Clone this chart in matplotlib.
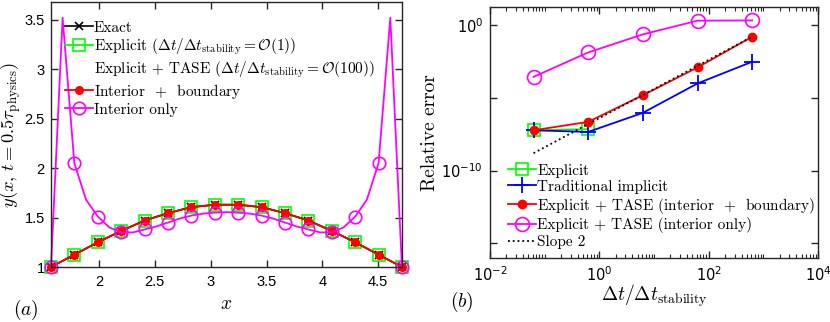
import matplotlib
matplotlib.use('Agg')
import matplotlib.pyplot as plt
from matplotlib.font_manager import FontProperties
from matplotlib.ticker import FixedLocator, FixedFormatter, LogLocator, NullFormatter

# Panel (a): solution at t = 0.5 tau_physics on the 16-point grid
x_grid = [1.571, 1.780, 1.990, 2.199, 2.409, 2.618, 2.827, 3.037,
          3.246, 3.456, 3.665, 3.875, 4.084, 4.294, 4.503, 4.712]
exact_y = [1.00, 1.125, 1.25, 1.365, 1.47, 1.545, 1.605, 1.63,
           1.63, 1.605, 1.545, 1.47, 1.365, 1.25, 1.125, 1.00]
explicit_y = [1.00, 1.125, 1.25, 1.365, 1.47, 1.545, 1.605, 1.63,
              1.63, 1.605, 1.545, 1.47, 1.365, 1.25, 1.125, 1.00]
tase_ib_y = [1.00, 1.125, 1.25, 1.365, 1.47, 1.545, 1.605, 1.63,
             1.63, 1.605, 1.545, 1.47, 1.365, 1.25, 1.125, 1.00]
tase_int_y = [1.00, 2.05, 1.51, 1.35, 1.38, 1.45, 1.52, 1.55,
              1.55, 1.52, 1.45, 1.38, 1.35, 1.51, 2.05, 1.00]
# interior-only curve as drawn (finer)
tase_int_curve_x = [1.571, 1.675, 1.780, 1.885, 1.990, 2.094, 2.199, 2.304, 2.409,
                    2.513, 2.618, 2.723, 2.827, 2.932, 3.037, 3.142, 3.246, 3.351,
                    3.456, 3.560, 3.665, 3.770, 3.875, 3.979, 4.084, 4.189, 4.294,
                    4.398, 4.503, 4.608, 4.712]
tase_int_curve_y = [1.00, 3.52, 2.05, 1.68, 1.51, 1.40, 1.35, 1.35, 1.38,
                    1.41, 1.45, 1.49, 1.52, 1.54, 1.55, 1.555, 1.55, 1.54,
                    1.52, 1.49, 1.45, 1.41, 1.38, 1.35, 1.35, 1.40, 1.51,
                    1.68, 2.05, 3.52, 1.00]

# Panel (b): relative error against dt / dt_stability
dt_ratio = [0.0625, 0.625, 6.25, 62.5, 625]
err_explicit = [10**-7.23, 10**-7.15]
err_implicit = [10**-7.23, 10**-7.34, 10**-6.03, 10**-4.01, 10**-2.52]
err_tase_ib = [10**-7.23, 10**-6.65, 10**-4.82, 10**-2.91, 10**-0.80]
err_tase_int = [10**-3.56, 10**-1.88, 10**-0.64, 10**0.30, 10**0.32]
slope_x = [0.0625, 625]
slope_y = [10**-8.8, 10**-0.8]

GREEN = '#00ff00'
MAG = '#ff00ff'
AXC = '#262626'

plt.rcParams['font.family'] = ['Liberation Sans', 'DejaVu Sans']
plt.rcParams['font.size'] = 10.5
plt.rcParams['axes.edgecolor'] = AXC
plt.rcParams['axes.linewidth'] = 1.0
plt.rcParams['xtick.color'] = AXC
plt.rcParams['ytick.color'] = AXC

cm_prop = FontProperties(family='cmr10', size=11, math_fontfamily='cm')
lab_prop = FontProperties(family='cmr10', size=14, math_fontfamily='cm')
ylab_prop = FontProperties(family='cmr10', size=13.3, math_fontfamily='cm')
tag_prop = FontProperties(family='cmr10', size=14, math_fontfamily='cm')

fig = plt.figure(figsize=(8.3, 3.22), dpi=100)
ax1 = fig.add_axes([0.0614, 0.1708, 0.4229, 0.823])
ax2 = fig.add_axes([0.5904, 0.1988, 0.3952, 0.7795])

# ---- (a)
ax1.plot(x_grid, explicit_y, '-s', color=GREEN, lw=1.3, ms=8, mfc='none', mew=1.2,
         clip_on=False, label=r'Explicit $(\Delta t/\Delta t_{\mathrm{stability}} = \mathcal{O}(1))$')
ax1.plot(x_grid, exact_y, '-x', color='k', lw=1.2, ms=6, mew=1.2, clip_on=False, label='Exact')
ax1.plot([], [], ls='none',
         label=r'Explicit + TASE $(\Delta t/\Delta t_{\mathrm{stability}} = \mathcal{O}(100))$')
ax1.plot(x_grid, tase_ib_y, '-o', color='r', lw=1.3, ms=5.5, clip_on=False,
         label=r'Interior  $+$  boundary')
ax1.plot(tase_int_curve_x, tase_int_curve_y, '-', color=MAG, lw=1.3, clip_on=False)
ax1.plot(x_grid, tase_int_y, 'o', color=MAG, ms=9, mfc='none', mew=1.2, clip_on=False)
ax1.plot([], [], '-o', color=MAG, lw=1.3, ms=9, mfc='none', mew=1.2, label='Interior only')

h, l = ax1.get_legend_handles_labels()
order = [1, 0, 2, 3, 4]
ax1.legend([h[i] for i in order], [l[i] for i in order], loc='upper left',
           bbox_to_anchor=(0.04, 0.928), frameon=False, prop=cm_prop, numpoints=1,
           handlelength=1.8, handletextpad=0.1, labelspacing=0.13, borderaxespad=0,
           borderpad=0)

ax1.set_xlim(1.5708, 4.7124)
ax1.set_ylim(1.0, 3.68)
ax1.set_xticks([2, 2.5, 3, 3.5, 4, 4.5])
ax1.set_xticklabels(['2', '2.5', '3', '3.5', '4', '4.5'])
ax1.set_yticks([1, 1.5, 2, 2.5, 3, 3.5])
ax1.set_yticklabels(['1', '1.5', '2', '2.5', '3', '3.5'])
ax1.tick_params(direction='in', top=True, right=True, length=5, width=1.0, pad=6,
                labelsize=10.5, labelcolor='k')
ax1.tick_params(axis='y', pad=4.5)
ax1.set_xlabel(r'$x$', fontproperties=lab_prop)
ax1.xaxis.label.set_va('center')
ax1.xaxis.set_label_coords(0.5, -0.14)
ax1.set_ylabel(r'$y(x,\, t = 0.5\tau_{\mathrm{physics}})$', fontproperties=ylab_prop)
ax1.yaxis.label.set_va('center')
ax1.yaxis.set_label_coords(-0.112, 0.5)
fig.text(0.031, 0.036, r'$(a)$', fontproperties=tag_prop, ha='center', va='center')

# ---- (b)
ax2.set_xscale('log')
ax2.set_yscale('log')
ax2.plot(dt_ratio[:2], err_explicit, '-s', color=GREEN, lw=1.3, ms=9, mfc='none', mew=1.2,
         clip_on=False, label='Explicit')
ax2.plot(dt_ratio, err_implicit, '-+', color='b', lw=1.3, ms=12, mew=1.3, clip_on=False,
         label='Traditional implicit')
ax2.plot(dt_ratio, err_tase_ib, '-o', color='r', lw=1.3, ms=6, clip_on=False,
         label=r'Explicit + TASE (interior  $+$  boundary)')
ax2.plot(dt_ratio, err_tase_int, '-o', color=MAG, lw=1.3, ms=10, mfc='none', mew=1.2,
         clip_on=False, label='Explicit + TASE (interior only)')
ax2.plot(slope_x, slope_y, ':', color='k', lw=1.3, label='Slope 2')

ax2.legend(loc='lower left', bbox_to_anchor=(0.055, 0.035), frameon=False, prop=cm_prop,
           numpoints=1, handlelength=1.8, handletextpad=0.1, labelspacing=0.12,
           borderaxespad=0, borderpad=0)

ax2.set_xlim(1e-2, 1e4)
ax2.set_ylim(1e-16, 10**1.24)
ax2.xaxis.set_major_locator(FixedLocator([1e-2, 1e0, 1e2, 1e4]))
ax2.xaxis.set_major_formatter(FixedFormatter([r'$10^{-2}$', r'$10^{0}$', r'$10^{2}$', r'$10^{4}$']))
ax2.xaxis.set_minor_locator(LogLocator(base=10, subs=range(1, 10), numticks=20))
ax2.xaxis.set_minor_formatter(NullFormatter())
ax2.yaxis.set_major_locator(FixedLocator([1e-15, 1e-10, 1e-5, 1e0]))
ax2.yaxis.set_major_formatter(FixedFormatter(['', r'$10^{-10}$', '', r'$10^{0}$']))
ax2.yaxis.set_minor_locator(FixedLocator([]))
ax2.tick_params(which='major', direction='in', top=True, right=True, length=5, width=1.0,
                pad=5, labelsize=10.5, labelcolor='k')
ax2.tick_params(which='minor', direction='in', top=True, right=True, length=3, width=0.8)
ax2.set_xlabel(r'$\Delta t/\Delta t_{\mathrm{stability}}$', fontproperties=lab_prop)
ax2.xaxis.label.set_va('center')
ax2.xaxis.set_label_coords(0.5, -0.151)
ax2.set_ylabel('Relative error', fontproperties=lab_prop)
ax2.yaxis.label.set_va('center')
ax2.yaxis.set_label_coords(-0.183, 0.5)
fig.text(0.557, 0.062, r'$(b)$', fontproperties=tag_prop, ha='center', va='center')

fig.savefig('out.png', dpi=100)
